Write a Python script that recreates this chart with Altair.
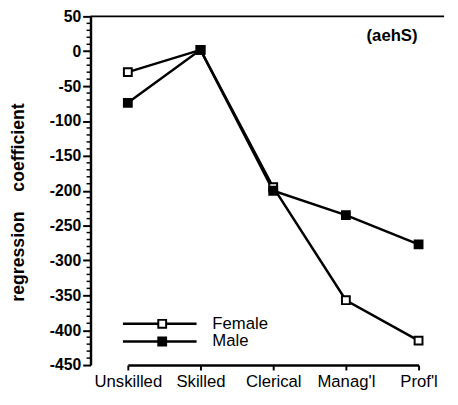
import altair as alt
import pandas as pd

# ---- data ----
categories = ["Unskilled", "Skilled", "Clerical", "Manag'l", "Prof'l"]
series = ["Female", "Male"]
female = [-30, 2, -195, -357, -415]
male = [-74, 2, -200, -235, -277]
y_major = list(range(-450, 51, 50))
y_minor = [v for v in range(-450, 51, 10) if v % 50 != 0]
annotation = ["(aehS)"]

rows = []
for s, vals in zip(series, [female, male]):
    for c, v in zip(categories, vals):
        rows.append({"occupation": c, "coef": v, "sex": s})
df = pd.DataFrame(rows)

W, H = 360, 355
FONT = "Liberation Sans"
NB = "\u00a0"
FILLS = ["white", "black"]

y_scale = alt.Scale(domain=[-450, 50], nice=False, zero=False)

x_enc = alt.X(
    "occupation:N",
    sort=categories,
    scale=alt.Scale(type="point", range=[38, 334], padding=0),
    axis=alt.Axis(
        title=None, labelAngle=0, labelFont=FONT, labelFontSize=17,
        labelColor="black", labelPadding=4, tickSize=5, tickWidth=2,
        tickColor="black", domainColor="black", domainWidth=2.5,
        labelOverlap=False, grid=False,
    ),
)
y_axis = alt.Axis(
    title="regression" + NB * 4 + "coefficient",
    values=y_major,
    labelExpr="'' + datum.value",
    tickSize=8, tickWidth=2, tickColor="black",
    domainColor="black", domainWidth=2.5,
    labelFont=FONT, labelFontSize=16, labelFontWeight="bold",
    labelColor="black", labelPadding=2, grid=False,
    titleFont=FONT, titleFontSize=18, titleFontWeight="bold",
    titleColor="black", titleAngle=270, titleX=-73, titleY=189,
    titleAlign="center", titleBaseline="middle",
)
y_enc = alt.Y("coef:Q", scale=y_scale, axis=y_axis)

base = alt.Chart(df)

lines = base.mark_line(color="black", strokeWidth=2.5).encode(
    x=x_enc, y=y_enc, detail="sex:N"
)

points = base.mark_point(
    shape="square", size=64, filled=True, stroke="black", strokeWidth=2, opacity=1
).encode(
    x=x_enc,
    y=y_enc,
    fill=alt.Fill("sex:N", scale=alt.Scale(domain=series, range=FILLS), legend=None),
)

minor = alt.Chart(pd.DataFrame({"v": y_minor})).mark_tick(
    orient="horizontal", size=4, thickness=1.5, color="black", opacity=1
).encode(y=alt.Y("v:Q", scale=y_scale, axis=y_axis), x=alt.value(-2))

top_line = alt.Chart(pd.DataFrame({"a": [0]})).mark_rule(
    color="black", strokeWidth=2
).encode(x=alt.value(0), x2=alt.value(W), y=alt.value(0))

label = alt.Chart(pd.DataFrame({"t": annotation})).mark_text(
    font=FONT, fontSize=17, fontWeight="bold", color="black"
).encode(text="t:N", x=alt.value(307), y=alt.value(20))

# manual legend (line + marker + label), bottom-left inside the plot
legend_layers = []
for i, s in enumerate(series):
    ly = 313 + 18 * i
    ldf = pd.DataFrame({"sex": [s]})
    legend_layers.append(
        alt.Chart(ldf).mark_rule(color="black", strokeWidth=2.5).encode(
            x=alt.value(33), x2=alt.value(108), y=alt.value(ly)
        )
    )
    legend_layers.append(
        alt.Chart(ldf).mark_point(
            shape="square", size=64, filled=True, stroke="black",
            strokeWidth=2, opacity=1, fill=FILLS[i]
        ).encode(x=alt.value(73), y=alt.value(ly))
    )
    legend_layers.append(
        alt.Chart(ldf).mark_text(
            font=FONT, fontSize=17, color="black", align="left", baseline="middle"
        ).encode(text="sex:N", x=alt.value(124), y=alt.value(ly))
    )

chart = (
    alt.layer(lines, points, minor, top_line, label, *legend_layers)
    .properties(
        width=W, height=H,
        autosize=alt.AutoSizeParams(type="none"),
        padding={"left": 84, "top": 5, "right": 6, "bottom": 30},
    )
    .configure_view(stroke=None)
)

chart.save("out.html", embed_options={"renderer": "svg", "actions": False})
